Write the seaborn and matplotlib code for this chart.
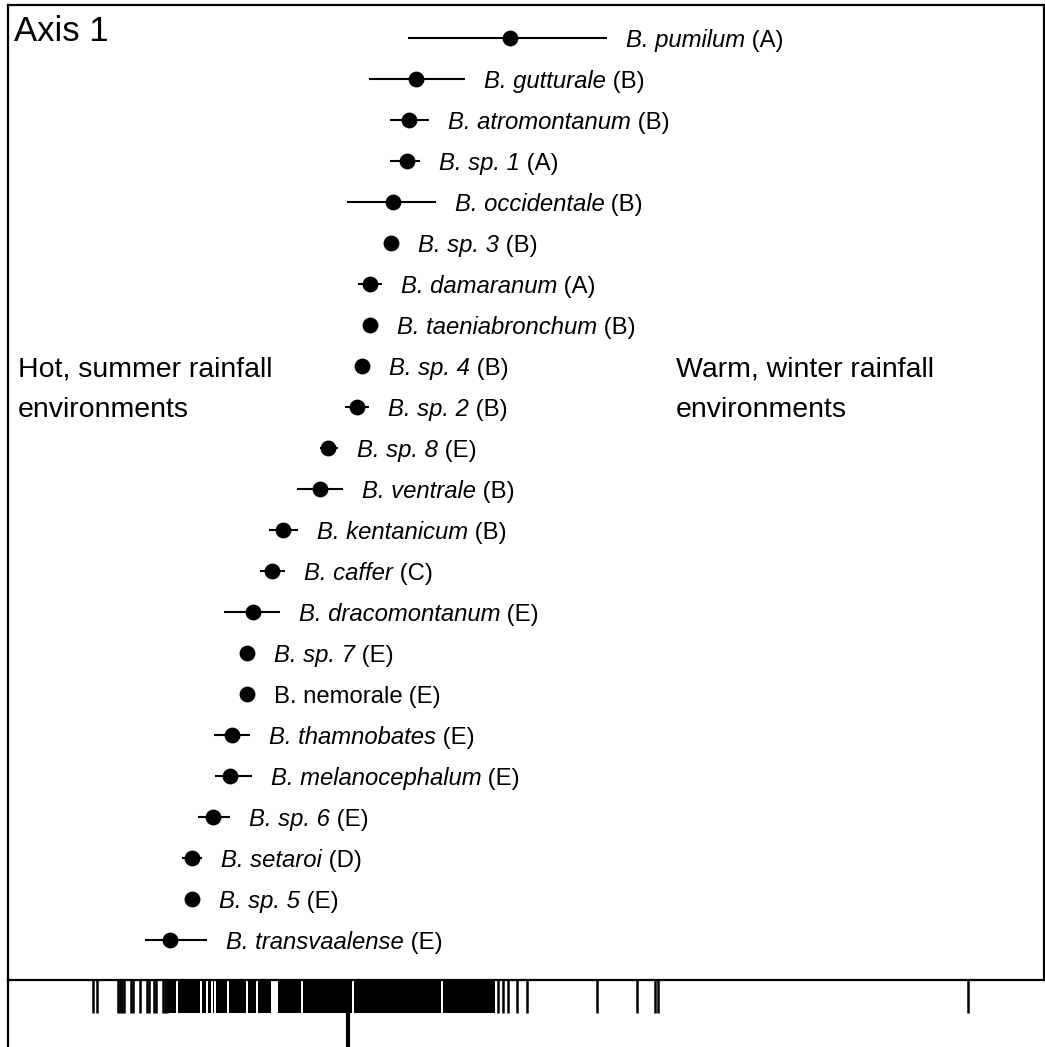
import numpy as np
import pandas as pd
import matplotlib
matplotlib.use("Agg")
import matplotlib.pyplot as plt
import seaborn as sns

sns.set_theme(style="white")
plt.rcParams['font.family'] = ['Liberation Sans', 'DejaVu Sans']

# ---------------- data ----------------
species = ["B. pumilum", "B. gutturale", "B. atromontanum", "B. sp. 1", "B. occidentale",
           "B. sp. 3", "B. damaranum", "B. taeniabronchum", "B. sp. 4", "B. sp. 2",
           "B. sp. 8", "B. ventrale", "B. kentanicum", "B. caffer", "B. dracomontanum",
           "B. sp. 7", "B. nemorale", "B. thamnobates", "B. melanocephalum", "B. sp. 6",
           "B. setaroi", "B. sp. 5", "B. transvaalense"]
groups = ["A", "B", "B", "A", "B", "B", "A", "B", "B", "B", "E", "B", "B", "C", "E",
          "E", "E", "E", "E", "E", "D", "E", "E"]
italic_name = [True] * 16 + [False] + [True] * 6
score_mean = [1.62, 0.68, 0.61, 0.59, 0.45, 0.43, 0.22, 0.22, 0.14, 0.09,
              -0.20, -0.28, -0.65, -0.76, -0.95, -1.01, -1.01, -1.16, -1.18, -1.35,
              -1.56, -1.56, -1.78]
score_lo = [0.60, 0.21, 0.42, 0.42, -0.01, 0.43, 0.10, 0.22, 0.14, -0.03,
            -0.28, -0.51, -0.79, -0.88, -1.24, -1.01, -1.01, -1.34, -1.33, -1.50,
            -1.66, -1.56, -2.03]
score_hi = [2.59, 1.17, 0.81, 0.72, 0.88, 0.43, 0.34, 0.22, 0.14, 0.21,
            -0.10, -0.05, -0.50, -0.63, -0.68, -1.01, -1.01, -0.98, -0.96, -1.18,
            -1.46, -1.56, -1.41]

# individual specimen scores (rug)
rug_single = [-2.55, -2.51, -2.30, -2.28, -2.26, -2.24, -2.17, -2.15, -2.08, -2.01,
              -1.99, -1.94, -1.92, -1.85, -1.83, -1.81, 1.50, 1.55, 1.60, 1.69,
              1.79, 2.49, 2.89, 3.07, 3.10, 6.20]
# densely packed runs of specimen scores (start, end)
rug_dense_start = [-1.80, -1.70, -1.46, -1.40, -1.35, -1.32, -1.19, -1.00, -0.90,
                   -0.70, -0.45, 0.06, 0.95]
rug_dense_end = [-1.72, -1.48, -1.42, -1.37, -1.34, -1.21, -1.02, -0.92, -0.77,
                 -0.47, 0.04, 0.93, 1.47]
axis_origin = 0.0

df = pd.DataFrame({"species": species, "group": groups, "mean": score_mean,
                   "lo": score_lo, "hi": score_hi, "italic": italic_name})
df["row"] = np.arange(len(df))

# ---------------- figure ----------------
W, H = 1045, 1047
fig = plt.figure(figsize=(W / 100, H / 100), dpi=100)
ax = fig.add_axes([8 / W, (H - 980) / H, (1044 - 8) / W, (980 - 5) / H])
rax = fig.add_axes([8 / W, 0, (1044 - 8) / W, (H - 980) / H], sharex=ax)

xlim = (-3.40, 6.96)
ax.set_xlim(*xlim)
ax.set_ylim(22.976, -0.805)

# error bars
ax.hlines(df["row"], df["lo"], df["hi"], color="black", lw=1.5, zorder=2)
# points
sns.scatterplot(data=df, x="mean", y="row", ax=ax, color="black", s=130,
                edgecolor="black", linewidth=0, zorder=3, legend=False)

fs = 17.2
fig.canvas.draw()
for _, r in df.iterrows():
    anchor = max(r["hi"], r["mean"] + 0.08)
    t1 = ax.annotate(r["species"], xy=(anchor, r["row"]), xytext=(13.5, -0.358 * fs),
                     textcoords="offset points", ha="left", va="baseline",
                     fontsize=fs, style="italic" if r["italic"] else "normal",
                     color="black")
    ax.annotate(" (" + r["group"] + ")", xy=(1, 0), xycoords=t1, ha="left",
                va="bottom", fontsize=fs, color="black")

# region annotations
fs2 = 20.5
for xpos, lines in [(-3.30, ["Hot, summer rainfall", "environments"]),
                    (3.28, ["Warm, winter rainfall", "environments"])]:
    for k, line in enumerate(lines):
        ax.annotate(line, xy=(xpos, 8 + k), xytext=(0, -0.358 * fs2),
                    textcoords="offset points", ha="left", va="baseline",
                    fontsize=fs2, color="black")

ax.text(6 / (1036), 1 - 10 / 975, "Axis 1", transform=ax.transAxes, ha="left",
        va="top", fontsize=25, color="black")

ax.set_xlabel("")
ax.set_ylabel("")
ax.set_xticks([])
ax.set_yticks([])
for s in ax.spines.values():
    s.set_visible(True)
    s.set_color("black")
    s.set_linewidth(1.6)

# rug
rax.set_ylim(0, 1)
rax.vlines(rug_single, 1 - 33 / 67, 1, transform=rax.get_xaxis_transform(),
           color="black", lw=1.8)
for a, b in zip(rug_dense_start, rug_dense_end):
    rax.axvspan(a, b, ymin=1 - 33 / 67, ymax=1, color="black", lw=0)
rax.axvline(axis_origin, ymin=0, ymax=1, color="black", lw=3)
rax.set_xticks([])
rax.set_yticks([])
rax.set_xlabel("")
rax.set_ylabel("")
for k in ["top", "right", "bottom"]:
    rax.spines[k].set_visible(False)
rax.spines["left"].set_color("black")
rax.spines["left"].set_linewidth(1.6)
rax.patch.set_alpha(0)

fig.savefig("out.png", dpi=100, facecolor="white")
